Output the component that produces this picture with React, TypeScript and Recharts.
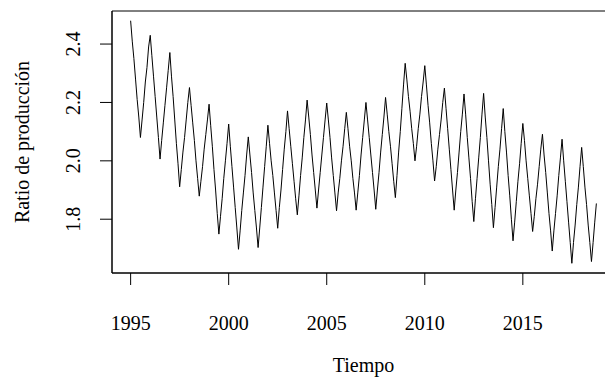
import React from 'react';
import { LineChart, Line, XAxis, YAxis, ReferenceArea, Label } from 'recharts';

// Monthly production ratio, Jan 1995 – Oct 2018 (one array per year, Jan..Dec)
const y1995 = [2.48, 2.41, 2.35, 2.28, 2.21, 2.15, 2.08, 2.14, 2.2, 2.27, 2.32, 2.39];
const y1996 = [2.43, 2.36, 2.29, 2.22, 2.15, 2.08, 2.006, 2.07, 2.13, 2.19, 2.25, 2.31];
const y1997 = [2.371, 2.29, 2.22, 2.14, 2.06, 1.99, 1.911, 1.97, 2.03, 2.08, 2.14, 2.2];
const y1998 = [2.251, 2.19, 2.13, 2.07, 2.0, 1.94, 1.879, 1.93, 1.98, 2.04, 2.09, 2.14];
const y1999 = [2.194, 2.12, 2.05, 1.97, 1.9, 1.82, 1.749, 1.81, 1.87, 1.94, 2.0, 2.06];
const y2000 = [2.126, 2.05, 1.98, 1.91, 1.84, 1.77, 1.697, 1.76, 1.83, 1.89, 1.95, 2.02];
const y2001 = [2.082, 2.02, 1.96, 1.89, 1.83, 1.77, 1.703, 1.77, 1.84, 1.91, 1.98, 2.05];
const y2002 = [2.122, 2.06, 2.0, 1.95, 1.89, 1.83, 1.769, 1.84, 1.9, 1.97, 2.04, 2.1];
const y2003 = [2.171, 2.11, 2.05, 1.99, 1.93, 1.87, 1.815, 1.88, 1.95, 2.01, 2.08, 2.14];
const y2004 = [2.208, 2.15, 2.09, 2.02, 1.96, 1.9, 1.838, 1.9, 1.96, 2.02, 2.08, 2.14];
const y2005 = [2.198, 2.14, 2.08, 2.01, 1.95, 1.89, 1.829, 1.89, 1.94, 2.0, 2.05, 2.11];
const y2006 = [2.166, 2.11, 2.05, 2.0, 1.94, 1.89, 1.831, 1.89, 1.95, 2.02, 2.08, 2.14];
const y2007 = [2.2, 2.14, 2.08, 2.02, 1.96, 1.9, 1.834, 1.9, 1.96, 2.03, 2.09, 2.15];
const y2008 = [2.217, 2.16, 2.1, 2.05, 1.99, 1.93, 1.874, 1.95, 2.03, 2.1, 2.18, 2.26];
const y2009 = [2.334, 2.28, 2.22, 2.17, 2.11, 2.06, 2.0, 2.05, 2.11, 2.16, 2.22, 2.27];
const y2010 = [2.326, 2.26, 2.19, 2.13, 2.06, 2.0, 1.931, 1.98, 2.04, 2.09, 2.14, 2.2];
const y2011 = [2.249, 2.18, 2.11, 2.04, 1.97, 1.9, 1.831, 1.9, 1.96, 2.03, 2.1, 2.16];
const y2012 = [2.229, 2.16, 2.08, 2.01, 1.94, 1.86, 1.792, 1.87, 1.94, 2.01, 2.08, 2.16];
const y2013 = [2.231, 2.15, 2.08, 2.0, 1.92, 1.85, 1.771, 1.84, 1.91, 1.98, 2.04, 2.11];
const y2014 = [2.179, 2.1, 2.03, 1.95, 1.88, 1.8, 1.726, 1.79, 1.86, 1.93, 1.99, 2.06];
const y2015 = [2.128, 2.07, 2.0, 1.94, 1.88, 1.82, 1.758, 1.81, 1.87, 1.92, 1.98, 2.04];
const y2016 = [2.091, 2.02, 1.96, 1.89, 1.82, 1.76, 1.691, 1.76, 1.82, 1.88, 1.95, 2.01];
const y2017 = [2.074, 2.0, 1.93, 1.86, 1.79, 1.72, 1.649, 1.72, 1.78, 1.85, 1.91, 1.98];
const y2018 = [2.046, 1.98, 1.91, 1.85, 1.78, 1.72, 1.655, 1.72, 1.79, 1.854];

const startYear = 1995;
const yearly = [
  y1995, y1996, y1997, y1998, y1999, y2000, y2001, y2002, y2003, y2004, y2005, y2006,
  y2007, y2008, y2009, y2010, y2011, y2012, y2013, y2014, y2015, y2016, y2017, y2018,
];

const xTicks = [1995, 2000, 2005, 2010, 2015];
const yTicks = [1.8, 2.0, 2.2, 2.4];

const values = yearly.flat();
const data = values.map((v, i) => ({ t: startYear + i / 12, v }));

// R-style 4% axis extension
const tMin = data[0].t;
const tMax = data[data.length - 1].t;
const vMin = Math.min(...values);
const vMax = Math.max(...values);
const xPad = (tMax - tMin) * 0.04;
const yPad = (vMax - vMin) * 0.04;
const xDomain: [number, number] = [tMin - xPad, tMax + xPad];
const yDomain: [number, number] = [vMin - yPad, vMax + yPad];

const FONT = '"Liberation Serif", "Times New Roman", serif';

const XTick = (props: any) => {
  const { x, y, payload } = props;
  return (
    <text x={x} y={y + 43} textAnchor="middle" fontFamily={FONT} fontSize={20} fill="#000">
      {payload.value}
    </text>
  );
};

const YTick = (props: any) => {
  const { y, payload } = props;
  const cx = 73;
  return (
    <text
      x={cx}
      y={y}
      transform={`rotate(-90, ${cx}, ${y})`}
      textAnchor="middle"
      dominantBaseline="central"
      fontFamily={FONT}
      fontSize={20}
      fill="#000"
    >
      {Number(payload.value).toFixed(1)}
    </text>
  );
};

const YTitle = (props: any) => {
  const vb = props.viewBox || { x: 0, y: 0, width: 0, height: 0 };
  const cx = vb.x + 22;
  const cy = vb.y + vb.height / 2;
  return (
    <text
      x={cx}
      y={cy}
      transform={`rotate(-90, ${cx}, ${cy})`}
      textAnchor="middle"
      dominantBaseline="central"
      fontFamily={FONT}
      fontSize={20}
      fill="#000"
    >
      Ratio de producción
    </text>
  );
};

export default function App() {
  return (
    <div
      style={{
        position: 'absolute',
        left: 0,
        top: 0,
        width: 605,
        height: 378,
        overflow: 'hidden',
        background: '#fff',
      }}
    >
      <LineChart width={640} height={378} data={data} margin={{ top: 11, right: 25, left: 0, bottom: 0 }}>
        <XAxis
          dataKey="t"
          type="number"
          domain={xDomain}
          allowDataOverflow
          ticks={xTicks}
          interval={0}
          tickSize={12}
          height={105}
          axisLine={{ stroke: '#000' }}
          tickLine={{ stroke: '#000' }}
          tick={<XTick />}
        >
          <Label
            value="Tiempo"
            position="insideBottom"
            offset={6}
            style={{ fontFamily: FONT, fontSize: 20, fill: '#000' }}
          />
        </XAxis>
        <YAxis
          type="number"
          domain={yDomain}
          allowDataOverflow
          ticks={yTicks}
          interval={0}
          tickSize={12}
          width={112}
          axisLine={{ stroke: '#000' }}
          tickLine={{ stroke: '#000' }}
          tick={<YTick />}
        >
          <Label content={<YTitle />} position="center" />
        </YAxis>
        <ReferenceArea
          x1={xDomain[0]}
          x2={xDomain[1]}
          y1={yDomain[0]}
          y2={yDomain[1]}
          fill="none"
          fillOpacity={0}
          stroke="#000"
          strokeWidth={1}
          ifOverflow="visible"
        />
        <Line
          type="linear"
          dataKey="v"
          stroke="#000"
          strokeWidth={1}
          dot={false}
          isAnimationActive={false}
        />
      </LineChart>
    </div>
  );
}
